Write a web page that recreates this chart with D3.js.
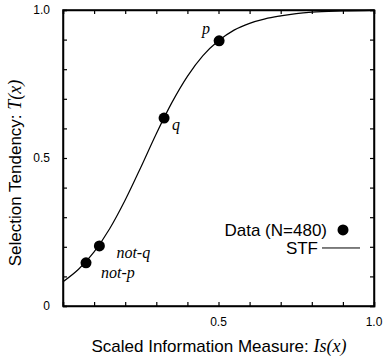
<!DOCTYPE html>
<html>
<head>
<meta charset="utf-8">
<script src="https://cdn.jsdelivr.net/npm/d3@7"></script>
<style>
  body { margin: 0; background: #fff; }
  svg { display: block; }
</style>
</head>
<body>
<script>
// observed selection tendencies for the four cards
const cards = ["not-p", "not-q", "q", "p"];
const cardInfo = [0.074, 0.117, 0.325, 0.502];
const cardTendency = [0.146, 0.203, 0.635, 0.896];

// STF curve
const stfX = [0, 0.05, 0.1, 0.15, 0.2, 0.25, 0.3, 0.35, 0.4, 0.45, 0.5, 0.55, 0.6, 0.65, 0.7, 0.75, 0.8, 0.9, 1.0];
const stfY = [0.082, 0.124, 0.183, 0.261, 0.358, 0.468, 0.582, 0.687, 0.776, 0.846, 0.896, 0.932, 0.955, 0.970, 0.980, 0.988, 0.993, 0.997, 0.999];

const xTickLabels = [0.5, 1.0];
const yTickLabels = [0, 0.5, 1.0];

const W = 385, H = 359;
const margin = {top: 10, right: 11, bottom: 53, left: 63},
      width = W - margin.left - margin.right,
      height = H - margin.top - margin.bottom;

const sans = "'Liberation Sans', Arial, sans-serif";
const serif = "'Liberation Serif', 'Times New Roman', serif";

const svg = d3.select("body").append("svg")
    .attr("width", W)
    .attr("height", H);

const g = svg.append("g")
    .attr("transform", `translate(${margin.left},${margin.top})`);

const x = d3.scaleLinear().domain([0, 1]).range([0, width]);
const y = d3.scaleLinear().domain([0, 1]).range([height, 0]);

const minor = d3.range(0, 1.0001, 0.1);

// frame with inward ticks on all four sides
g.append("g")
    .attr("transform", `translate(0,${height})`)
    .call(d3.axisTop(x).tickValues(minor).tickSize(4).tickFormat(""));
g.append("g")
    .call(d3.axisBottom(x).tickValues(minor).tickSize(4).tickFormat(""));
g.append("g")
    .call(d3.axisRight(y).tickValues(minor).tickSize(4).tickFormat(""));
g.append("g")
    .attr("transform", `translate(${width},0)`)
    .call(d3.axisLeft(y).tickValues(minor).tickSize(4).tickFormat(""));

g.selectAll(".domain").attr("stroke", "#000").attr("stroke-width", 1.5);
g.selectAll(".tick line").attr("stroke", "#000").attr("stroke-width", 1.2);

g.append("rect")
    .attr("width", width).attr("height", height)
    .attr("fill", "none").attr("stroke", "#000").attr("stroke-width", 1.5);

// tick labels
g.selectAll(".xlab")
  .data(xTickLabels)
  .enter().append("text")
    .attr("x", d => x(d))
    .attr("y", height + 20)
    .attr("text-anchor", "middle")
    .style("font", `12px ${sans}`)
    .text(d => d3.format(".1f")(d));

g.selectAll(".ylab")
  .data(yTickLabels)
  .enter().append("text")
    .attr("x", -13)
    .attr("y", d => y(d))
    .attr("dy", "0.35em")
    .attr("text-anchor", "end")
    .style("font", `12px ${sans}`)
    .text(d => d === 0 ? "0" : d3.format(".1f")(d));

// STF line
const line = d3.line()
    .x(d => x(d[0]))
    .y(d => y(d[1]))
    .curve(d3.curveMonotoneX);

g.append("path")
    .datum(d3.zip(stfX, stfY))
    .attr("fill", "none")
    .attr("stroke", "#000")
    .attr("stroke-width", 1.2)
    .attr("d", line);

// data points
const pts = cards.map((c, i) => ({card: c, x: cardInfo[i], y: cardTendency[i]}));
g.selectAll("circle.pt")
  .data(pts)
  .enter().append("circle")
    .attr("class", "pt")
    .attr("cx", d => x(d.x))
    .attr("cy", d => y(d.y))
    .attr("r", 5.5)
    .attr("fill", "#000");

const labelOffset = {"not-p": [15, 10], "not-q": [17, 6], "q": [8, 6], "p": [-17, -12]};
g.selectAll("text.card")
  .data(pts)
  .enter().append("text")
    .attr("class", "card")
    .attr("x", d => x(d.x) + labelOffset[d.card][0])
    .attr("y", d => y(d.y) + labelOffset[d.card][1])
    .attr("dy", "0.35em")
    .style("font", `italic 16px ${serif}`)
    .text(d => d.card);

// legend
const lg = g.append("g");
lg.append("text")
    .attr("x", 264).attr("y", y(0.257))
    .attr("dy", "0.35em")
    .attr("text-anchor", "end")
    .style("font", `17px ${sans}`)
    .text("Data (N=480)");
lg.append("circle")
    .attr("cx", 280).attr("cy", y(0.257))
    .attr("r", 5.5).attr("fill", "#000");
lg.append("text")
    .attr("x", 255).attr("y", y(0.196))
    .attr("dy", "0.35em")
    .attr("text-anchor", "end")
    .style("font", `17px ${sans}`)
    .text("STF");
lg.append("line")
    .attr("x1", 259).attr("x2", 297)
    .attr("y1", y(0.196)).attr("y2", y(0.196))
    .attr("stroke", "#000").attr("stroke-width", 1);

// axis titles
const xt = svg.append("text")
    .attr("x", 219)
    .attr("y", 352)
    .attr("text-anchor", "middle")
    .style("font", `17px ${sans}`);
xt.append("tspan").text("Scaled Information Measure: ");
xt.append("tspan")
    .style("font", `italic 18px ${serif}`)
    .text("Is(x)");

const yt = svg.append("text")
    .attr("transform", `translate(21,173) rotate(-90)`)
    .attr("text-anchor", "middle")
    .style("font", `17px ${sans}`);
yt.append("tspan").text("Selection Tendency: ");
yt.append("tspan")
    .style("font", `italic 18px ${serif}`)
    .text("T(x)");
</script>
</body>
</html>
